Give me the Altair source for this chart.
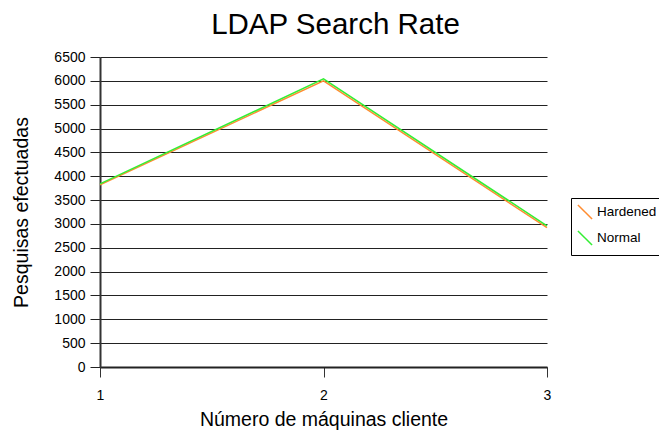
import altair as alt
import pandas as pd

clients = [1, 2, 3]
hardened = [3820, 6000, 2920]
normal = [3840, 6040, 2960]
series_names = ["Hardened", "Normal"]
series_colors = ["#ff8c30", "#33ee33"]
y_ticks = list(range(0, 6501, 500))

rows = []
for c, h, n in zip(clients, hardened, normal):
    rows.append({"clients": c, "value": h, "series": "Hardened"})
    rows.append({"clients": c, "value": n, "series": "Normal"})
df = pd.DataFrame(rows)

font = "Liberation Sans"

chart = alt.Chart(df).mark_line(strokeWidth=1.5).encode(
    x=alt.X("clients:Q",
            scale=alt.Scale(domain=[1, 3], nice=False, zero=False),
            axis=alt.Axis(values=clients, title="Número de máquinas cliente",
                          tickCount=3, tickMinStep=0.5, labelExpr="datum.value",
                          grid=False, tickSize=10, tickColor="#333", labelPadding=11,
                          labelFontSize=14, titleFontSize=19.5, titlePadding=8,
                          labelOverlap=False, labelFlush=False,
                          titleFontWeight="normal", domainColor="#222", domainWidth=2,
                          labelColor="#000", titleColor="#000")),
    y=alt.Y("value:Q",
            scale=alt.Scale(domain=[0, 6500], nice=False),
            axis=alt.Axis(values=y_ticks, format="d", title="Pesquisas efectuadas",
                          grid=True, gridColor="#222", gridWidth=1, tickSize=10,
                          tickColor="#222", labelPadding=5, labelFontSize=14,
                          labelOverlap=False, labelFlush=False,
                          titleFontSize=19.5, titlePadding=22, titleFontWeight="normal",
                          domainColor="#333", domainWidth=2,
                          labelColor="#000", titleColor="#000")),
    color=alt.Color("series:N",
                    scale=alt.Scale(domain=series_names, range=series_colors),
                    legend=alt.Legend(title=None, orient="none", legendX=471, legendY=141,
                                      symbolType="M-1,-1L1,1", symbolStrokeWidth=1.5,
                                      symbolSize=200, labelFontSize=13.5, labelColor="#000",
                                      strokeColor="#000", padding=6, rowPadding=4,
                                      labelOffset=4)),
    order=alt.Order("series:N"),
).properties(
    width=447, height=310,
    title=alt.TitleParams("LDAP Search Rate", fontSize=29.5, fontWeight="normal",
                          font=font, color="#000", offset=10, dx=12),
    autosize=alt.AutoSizeParams(type="none"),
    padding={"left": 92, "top": 49, "right": 112, "bottom": 64},
).configure(font=font).configure_view(stroke=None)

chart.save("out.html", embed_options={"renderer": "svg", "actions": False})
